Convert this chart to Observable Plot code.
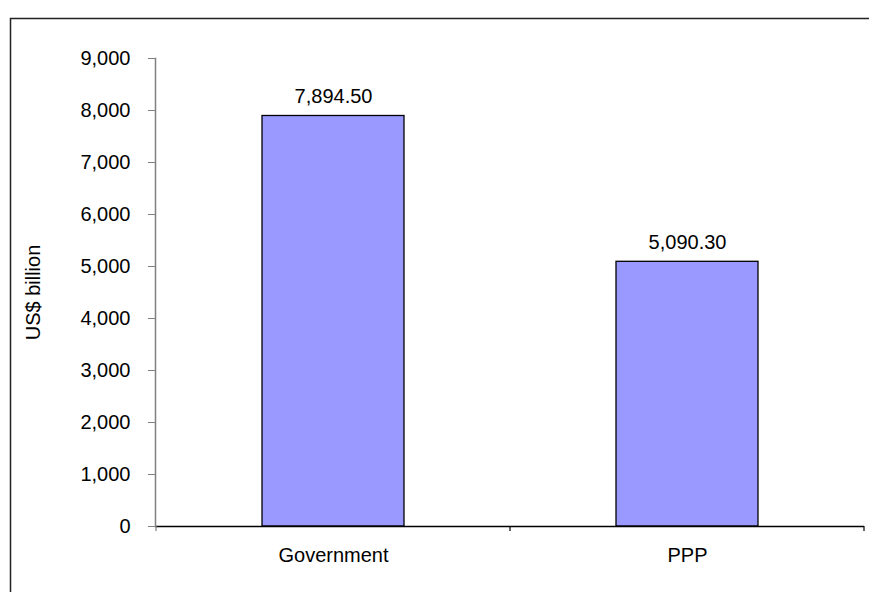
<!DOCTYPE html>
<html>
<head>
<meta charset="utf-8">
<script src="https://cdn.jsdelivr.net/npm/d3@7"></script>
<script src="https://cdn.jsdelivr.net/npm/@observablehq/plot@0.6"></script>
<style>
  html, body { margin: 0; padding: 0; background: #fff; }
  #chart { position: relative; width: 869px; height: 592px; overflow: hidden; }
</style>
</head>
<body>
<div id="chart"></div>
<script>
const categories = ["Government", "PPP"];
const values = [7894.50, 5090.30];
const yTicks = [0, 1000, 2000, 3000, 4000, 5000, 6000, 7000, 8000, 9000];
const yLabel = "US$ billion";

const data = categories.map((c, i) => ({category: c, value: values[i]}));
const fmtTick = d3.format(",");
const fmtVal = d3.format(",.2f");
const font = "Liberation Sans, Arial, sans-serif";
const fs = 20;

const plot = Plot.plot({
  width: 869,
  height: 592,
  marginLeft: 155,
  marginRight: 5,
  marginTop: 58,
  marginBottom: 66,
  style: {fontFamily: font, fontSize: fs + "px", color: "#000", background: "#fff"},
  x: {domain: categories, paddingInner: 0.6, paddingOuter: 0.3, align: 0.5, label: null},
  y: {domain: [0, 9000], ticks: yTicks, tickFormat: fmtTick, label: null},
  marks: [
    Plot.barY(data, {x: "category", y: "value", fill: "#9999FF", stroke: "#000", strokeWidth: 1.3}),
    Plot.text(data, {x: "category", y: "value", text: d => fmtVal(d.value), dy: -19, fontSize: fs, fill: "#000"}),
    Plot.ruleY([0], {stroke: "#000", strokeWidth: 1.3}),
    Plot.frame({anchor: "left", stroke: "#808080", strokeWidth: 1.5}),
    Plot.axisY({ticks: yTicks, tickFormat: fmtTick, tickSize: 7, tickPadding: 18, stroke: "#808080", fontSize: fs, fill: "#000", label: null}),
    Plot.axisX({tickSize: 0, tickPadding: 21, fontSize: fs, fill: "#000", label: null}),
    Plot.text([yLabel], {frameAnchor: "left", textAnchor: "middle", rotate: -90, dx: -122, fontSize: fs, fill: "#000"})
  ]
});

document.getElementById("chart").appendChild(plot);

// outer chart border (only top and left edges visible in the reference)
const svg = d3.select(plot);
svg.append("rect")
  .attr("x", 10.5).attr("y", 18.5)
  .attr("width", 900).attr("height", 600)
  .attr("fill", "none").attr("stroke", "#222").attr("stroke-width", 1.5);

// category boundary ticks below the x axis, using the band scale
const xs = plot.scale("x");
const ys = plot.scale("y");
const y0 = ys.apply(0);
const bw = xs.bandwidth;
const step = xs.step;
const left = xs.apply(categories[0]) - (step - bw) / 2;
const bounds = d3.range(categories.length + 1).map(i => left + i * step);
svg.append("g").selectAll("line").data(bounds).join("line")
  .attr("x1", d => d).attr("x2", d => d)
  .attr("y1", y0).attr("y2", y0 + 5)
  .attr("stroke", (d, i) => i === 0 ? "#808080" : "#000").attr("stroke-width", 1.2);
</script>
</body>
</html>
